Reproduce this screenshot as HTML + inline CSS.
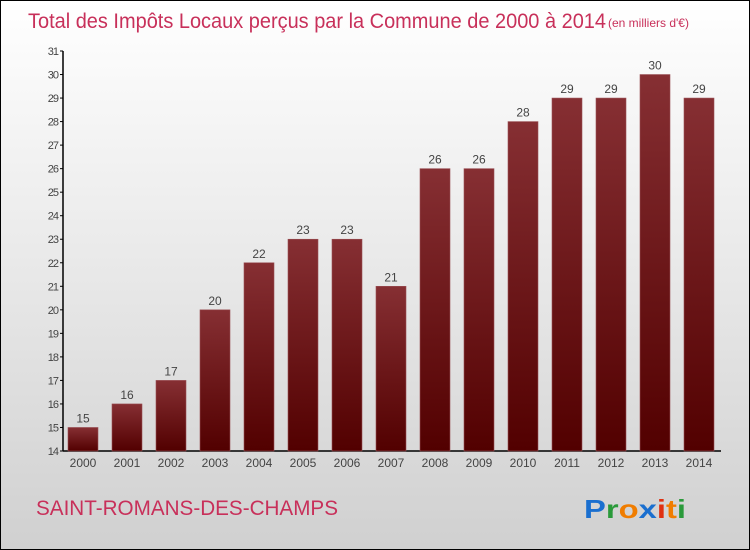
<!DOCTYPE html>
<html><head><meta charset="utf-8"><style>
body{margin:0}
#c{width:750px;height:550px;position:relative;box-sizing:border-box;border:1px solid #000;background:linear-gradient(#ffffff 0%,#e8e8e8 50%,#d0d0d0 100%);font-family:"Liberation Sans",sans-serif;overflow:hidden}
</style></head><body>
<div id="c">
<svg width="750" height="550" style="position:absolute;left:0;top:0" id="svg">
<defs><linearGradient id="bg" x1="0" y1="0" x2="0" y2="1"><stop offset="0" stop-color="#862f33"/><stop offset="1" stop-color="#520000"/></linearGradient></defs>
<text x="27" y="27" font-size="21" fill="#c8305a" textLength="578" lengthAdjust="spacingAndGlyphs">Total des Impôts Locaux perçus par la Commune de 2000 à 2014</text>
<text x="607" y="26" font-size="12" fill="#c8305a">(en milliers d'€)</text>
<text x="35" y="514" font-size="21" fill="#c8305a" textLength="302" lengthAdjust="spacingAndGlyphs">SAINT-ROMANS-DES-CHAMPS</text>
<text x="583" y="517" font-size="26" font-weight="bold" textLength="102" lengthAdjust="spacingAndGlyphs"><tspan fill="#1a6fcf">P</tspan><tspan fill="#2a9a3a">r</tspan><tspan fill="#f07d00">o</tspan><tspan fill="#1a6fcf">x</tspan><tspan fill="#e03010">i</tspan><tspan fill="#f07d00">t</tspan><tspan fill="#2a9a3a">i</tspan></text>
<g id="plot"></g>
</svg>
</div>
<script>
const years=["2000","2001","2002","2003","2004","2005","2006","2007","2008","2009","2010","2011","2012","2013","2014"];
const values=[15,16,17,20,22,23,23,21,26,26,28,29,29,30,29];
const yTicks=[14,15,16,17,18,19,20,21,22,23,24,25,26,27,28,29,30,31];
const NS="http://www.w3.org/2000/svg";
const g=document.getElementById('plot');
const y0=450,y1=50,vmin=14,vmax=31;
function ys(v){return y0-(v-vmin)*(y0-y1)/(vmax-vmin);}
function xs(i){return 82+i*44;}
function mk(t,a){const e=document.createElementNS(NS,t);for(const k in a)e.setAttribute(k,a[k]);g.appendChild(e);return e;}
let ax=mk('line',{x1:62,y1:y1,x2:62,y2:y0,stroke:'#000','stroke-width':1.5});


let bx=mk('line',{x1:62,y1:y0,x2:720,y2:y0,stroke:'#000','stroke-width':1.5});


yTicks.forEach(v=>{
 const y=ys(v);
 let tk=mk('line',{x1:59,y1:y,x2:62,y2:y,stroke:'#000'});
 
 
 let t=mk('text',{x:57,y:y+4,'font-size':11,fill:'#444','text-anchor':'end','letter-spacing':'-1'});
 t.textContent=v;
 
 
});
values.forEach((v,i)=>{
 const x=xs(i),y=ys(v);
 let r=mk('rect',{x:x-15,y:y,width:30,height:y0-y,fill:'url(#bg)',stroke:'#9a5055','stroke-width':0.6});
 
 
 let t=mk('text',{x:x,y:y-5,'font-size':12,fill:'#444','text-anchor':'middle'});
 t.textContent=v;
 
 
 let xl=mk('text',{x:x,y:466,'font-size':12,fill:'#444','text-anchor':'middle'});
 xl.textContent=years[i];
 
 
});
</script>
</body></html>
